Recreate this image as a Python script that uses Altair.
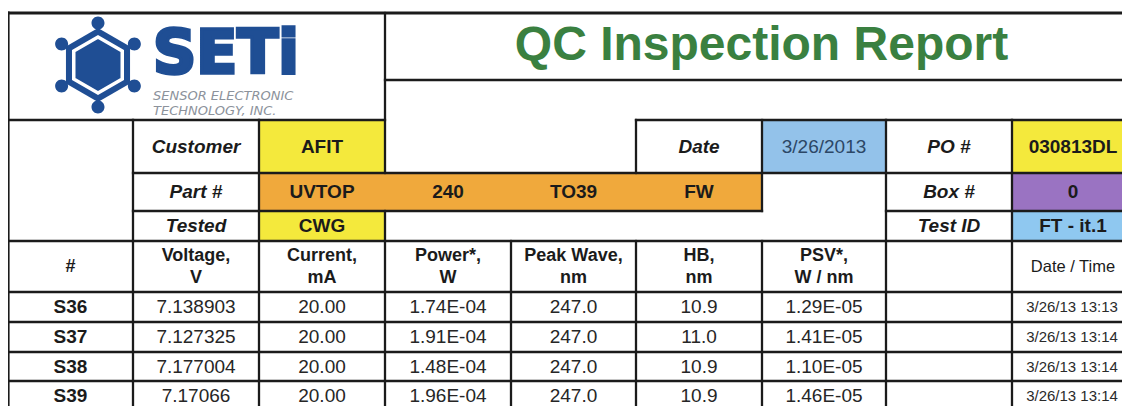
import math
import altair as alt
import pandas as pd

# ---------------- content ----------------
title_text = "QC Inspection Report"
logo_word = "SETi"
logo_tagline = ["SENSOR ELECTRONIC", "TECHNOLOGY, INC."]

info_labels_left = ["Customer", "Part #", "Tested"]
date_label = "Date"
info_labels_right = ["PO #", "Box #", "Test ID"]
customer_value = "AFIT"
part_values = ["UVTOP", "240", "TO39", "FW"]
tested_value = "CWG"
date_value = "3/26/2013"
right_values = ["030813DL", "0", "FT - it.1"]

header_top = ["#", "Voltage,", "Current,", "Power*,", "Peak Wave,", "HB,", "PSV*,", "", "Date / Time"]
header_bottom = ["", "V", "mA", "W", "nm", "nm", "W / nm", "", ""]

sample_ids = ["S36", "S37", "S38", "S39"]
voltage = ["7.138903", "7.127325", "7.177004", "7.17066"]
current = ["20.00", "20.00", "20.00", "20.00"]
power = ["1.74E-04", "1.91E-04", "1.48E-04", "1.96E-04"]
peak_wave = ["247.0", "247.0", "247.0", "247.0"]
hb = ["10.9", "11.0", "10.9", "10.9"]
psv = ["1.29E-05", "1.41E-05", "1.10E-05", "1.46E-05"]
remarks = ["", "", "", ""]
date_time = ["3/26/13 13:13", "3/26/13 13:14", "3/26/13 13:14", "3/26/13 13:14"]

# ---------------- layout (page pixels) ----------------
PAGE = 8
W, H = 1114, 398          # page is exactly 1130 x 414 with the 8px margin
COL = [8, 133, 259, 385, 511, 636, 762, 886, 1012, 1138]
Y_TOP, Y_TITLE, Y_INFO = 13, 80, 120
INFO_ROWS = [120, 173, 211, 241]
HEAD_ROWS = [241, 292]
DATA_ROWS = [292, 322, 352, 381, 410]
Y_END = 440

FONT = "Liberation Sans"
INK = "#1b1b1b"
NAVY = "#1f4e94"
GREEN = "#3a8040"
YELLOW = "#f4e93c"
ORANGE = "#f0a93c"
BLUE = "#93c2ea"
PURPLE = "#9a73c2"
LBLUE = "#8fc8f0"


def px(v):
    return v - PAGE


def ccx(i0, i1=None):
    if i1 is None:
        i1 = i0 + 1
    return px((COL[i0] + COL[i1]) / 2)


def rcy(rows, i):
    return px((rows[i] + rows[i + 1]) / 2)


# ---------------- cell fills ----------------
fills = []


def fill(c0, c1, y0, y1, color):
    fills.append(dict(x=px(COL[c0]), x2=px(COL[c1]), y=px(y0), y2=px(y1), c=color))


fill(2, 3, INFO_ROWS[0], INFO_ROWS[1], YELLOW)
fill(6, 7, INFO_ROWS[0], INFO_ROWS[1], BLUE)
fill(8, 9, INFO_ROWS[0], INFO_ROWS[1], YELLOW)
fill(2, 6, INFO_ROWS[1], INFO_ROWS[2], ORANGE)
fill(8, 9, INFO_ROWS[1], INFO_ROWS[2], PURPLE)
fill(2, 3, INFO_ROWS[2], INFO_ROWS[3], YELLOW)
fill(8, 9, INFO_ROWS[2], INFO_ROWS[3], LBLUE)
fills_df = pd.DataFrame(fills)

# ---------------- grid lines ----------------
lines = []


def hline(y, x0, x1, w=2.3):
    lines.append(dict(x=px(x0), x2=px(x1), y=px(y), y2=px(y), w=w))


def vline(x, y0, y1, w=2.3):
    lines.append(dict(x=px(x), x2=px(x), y=px(y0), y2=px(y1), w=w))


hline(Y_TOP, COL[0], COL[9], 3.2)
hline(Y_TITLE, COL[3], COL[9])
hline(Y_INFO, COL[0], COL[3])
hline(Y_INFO, COL[5], COL[9])
hline(INFO_ROWS[1], COL[1], COL[9])
hline(INFO_ROWS[2], COL[1], COL[6])
hline(INFO_ROWS[2], COL[7], COL[9])
hline(INFO_ROWS[3], COL[0], COL[9])
for y in DATA_ROWS:
    hline(y, COL[0], COL[9])
vline(COL[0], Y_TOP, Y_END, 3.2)
vline(COL[1], Y_INFO, Y_END)
vline(COL[2], Y_INFO, Y_END)
vline(COL[3], Y_TOP, INFO_ROWS[1])
vline(COL[3], INFO_ROWS[2], Y_END)
vline(COL[4], HEAD_ROWS[0], Y_END)
vline(COL[5], Y_INFO, INFO_ROWS[1])
vline(COL[5], HEAD_ROWS[0], Y_END)
vline(COL[6], Y_INFO, INFO_ROWS[2])
vline(COL[6], HEAD_ROWS[0], Y_END)
vline(COL[7], Y_INFO, Y_END)
vline(COL[8], Y_INFO, Y_END)
lines_df = pd.DataFrame(lines)

# ---------------- texts ----------------
label_bi = []   # bold italic labels
bold = []       # bold values / headers
normal = []     # regular values


def put(lst, x, y, t, size=19, color=INK):
    if t != "":
        lst.append(dict(x=x, y=y, t=t, s=size, c=color))


for i, t in enumerate(info_labels_left):
    put(label_bi, ccx(1), rcy(INFO_ROWS, i), t)
put(label_bi, ccx(5), rcy(INFO_ROWS, 0), date_label)
for i, t in enumerate(info_labels_right):
    put(label_bi, ccx(7), rcy(INFO_ROWS, i), t)

put(bold, ccx(2), rcy(INFO_ROWS, 0), customer_value)
for j, t in enumerate(part_values):
    put(bold, ccx(2 + j), rcy(INFO_ROWS, 1), t)
put(bold, ccx(2), rcy(INFO_ROWS, 2), tested_value)
for i, t in enumerate(right_values):
    put(bold, ccx(8) - 2, rcy(INFO_ROWS, i), t)
put(normal, ccx(6), rcy(INFO_ROWS, 0), date_value, 19, "#2c4766")

hy = rcy(HEAD_ROWS, 0)
for j, (a, b) in enumerate(zip(header_top, header_bottom)):
    if j == 8:
        put(normal, ccx(j) - 2, hy, a, 16.5)
    elif b == "":
        put(bold, ccx(j), hy, a, 18)
    else:
        put(bold, ccx(j), hy - 10.5, a, 18)
        put(bold, ccx(j), hy + 11, b, 18)

columns = [voltage, current, power, peak_wave, hb, psv, remarks]
for i in range(len(sample_ids)):
    y = rcy(DATA_ROWS, i)
    put(bold, ccx(0), y, sample_ids[i], 19)
    for j, col in enumerate(columns):
        put(normal, ccx(j + 1), y, col[i], 19, "#262626")
    put(normal, ccx(8) - 3, y, date_time[i], 15, "#2a2a2a")

label_df = pd.DataFrame(label_bi)
bold_df = pd.DataFrame(bold)
normal_df = pd.DataFrame(normal)

# ---------------- logo ----------------
def hex_path(r):
    pts = []
    for k in range(6):
        a = math.radians(-90 + 60 * k)
        pts.append(f"{r * math.cos(a):.2f},{r * math.sin(a):.2f}")
    return "M" + "L".join(pts) + "Z"


def dots_path(r, rd):
    parts = []
    for k in range(6):
        a = math.radians(-90 + 60 * k)
        cx, cy = r * math.cos(a), r * math.sin(a)
        parts.append(
            f"M{cx - rd:.2f},{cy:.2f}a{rd},{rd} 0 1,0 {2 * rd},0a{rd},{rd} 0 1,0 {-2 * rd},0Z"
        )
    return "".join(parts)


icon_df = pd.DataFrame([dict(x=px(98), y=px(65))])
word_df = pd.DataFrame([dict(x=px(153), y=px(73), t=logo_word)])
tag_df = pd.DataFrame([
    dict(x=px(153), y=px(99.5), t=logo_tagline[0]),
    dict(x=px(153), y=px(115), t=logo_tagline[1]),
])
title_df = pd.DataFrame([dict(x=ccx(3, 9), y=px(46), t=title_text)])

# ---------------- chart ----------------
xs = alt.Scale(domain=[0, W], nice=False, zero=False)
ys = alt.Scale(domain=[0, H], nice=False, zero=False, reverse=True)


def X(f="x"):
    return alt.X(f"{f}:Q", scale=xs, axis=None)


def Y(f="y"):
    return alt.Y(f"{f}:Q", scale=ys, axis=None)


rects = alt.Chart(fills_df).mark_rect().encode(
    x=X(), x2="x2:Q", y=Y(), y2="y2:Q", color=alt.Color("c:N", scale=None)
)

rules = alt.Chart(lines_df).mark_rule(color=INK, strokeCap="square").encode(
    x=X(), x2="x2:Q", y=Y(), y2="y2:Q", strokeWidth=alt.StrokeWidth("w:Q", scale=None)
)


def text_layer(df, weight, style="normal"):
    return alt.Chart(df).mark_text(
        font=FONT, fontWeight=weight, fontStyle=style, align="center", baseline="middle"
    ).encode(
        x=X(), y=Y(), text="t:N",
        size=alt.Size("s:Q", scale=None),
        color=alt.Color("c:N", scale=None),
    )


labels_layer = text_layer(label_df, "bold", "italic")
bold_layer = text_layer(bold_df, "bold")
normal_layer = text_layer(normal_df, "normal")

icon_fill = alt.Chart(icon_df).mark_point(
    shape=hex_path(37), size=4, filled=True, color=NAVY, opacity=1, strokeWidth=0
).encode(x=X(), y=Y())
icon_dots = alt.Chart(icon_df).mark_point(
    shape=dots_path(42, 6.5), size=4, filled=True, color=NAVY, opacity=1, strokeWidth=0
).encode(x=X(), y=Y())
icon_line = alt.Chart(icon_df).mark_point(
    shape=hex_path(28), size=4, filled=False, color="white", opacity=1, strokeWidth=3.5
).encode(x=X(), y=Y())

word = alt.Chart(word_df).mark_text(
    font="DejaVu Sans", fontWeight="bold", fontSize=60, color=NAVY,
    stroke=NAVY, strokeWidth=3.5, strokeJoin="miter",
    align="left", baseline="alphabetic"
).encode(x=X(), y=Y(), text="t:N")

tag = alt.Chart(tag_df).mark_text(
    font="DejaVu Sans", fontStyle="italic", fontSize=13, color="#8c929b",
    align="left", baseline="alphabetic"
).encode(x=X(), y=Y(), text="t:N")

title = alt.Chart(title_df).mark_text(
    font=FONT, fontWeight="bold", fontSize=48, color=GREEN,
    align="center", baseline="middle"
).encode(x=X(), y=Y(), text="t:N")

chart = alt.layer(
    rects, icon_fill, icon_dots, icon_line, word, tag, title,
    labels_layer, bold_layer, normal_layer, rules
).properties(
    width=W, height=H, padding=0,
    autosize=alt.AutoSizeParams(type="none"),
    background="white",
).configure_view(stroke=None)

chart.save("out.html", embed_options={"renderer": "svg", "actions": False})
